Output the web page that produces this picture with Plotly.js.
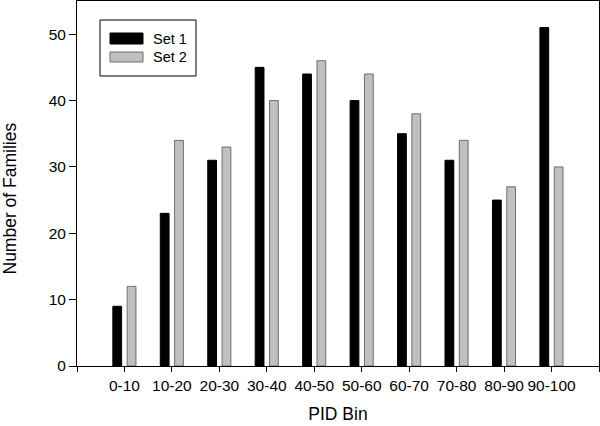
<!DOCTYPE html>
<html>
<head>
<meta charset="utf-8">
<script src="https://cdn.plot.ly/plotly-3.0.1.min.js"></script>
<style>html,body{margin:0;padding:0;background:#fff;}#chart{width:600px;height:426px;}</style>
</head>
<body>
<div id="chart"></div>
<script>
const categories = ["0-10","10-20","20-30","30-40","40-50","50-60","60-70","70-80","80-90","90-100"];
const set1 = [9, 23, 31, 45, 44, 40, 35, 31, 25, 51];
const set2 = [12, 34, 33, 40, 46, 44, 38, 34, 27, 30];
const seriesNames = ["Set 1", "Set 2"];
const yTicks = [0, 10, 20, 30, 40, 50];
const xTitle = "PID Bin";
const yTitle = "Number of Families";

const xpos = categories.map((c, i) => i + 1);
const font = "Liberation Sans, Arial, sans-serif";

const traces = [
  {type: "bar", x: xpos, y: set1, name: seriesNames[0], width: 0.185, offset: -0.245,
   marker: {color: "#000000", line: {color: "#000000", width: 1}}, showlegend: false, hoverinfo: "skip"},
  {type: "bar", x: xpos, y: set2, name: seriesNames[1], width: 0.185, offset: 0.057,
   marker: {color: "#c0c0c0", line: {color: "#6e6e6e", width: 1}}, showlegend: false, hoverinfo: "skip"}
];

const px = v => (v - 77) / 522;
const py = v => (366 - v) / 365;

const layout = {
  width: 600, height: 426,
  margin: {l: 77, r: 1, t: 1, b: 60},
  paper_bgcolor: "#fff", plot_bgcolor: "#fff",
  font: {family: font, color: "#000", size: 15.5},
  bargap: 0,
  xaxis: {
    range: [0, 11], tickvals: [0].concat(xpos, [11]), ticktext: [""].concat(categories, [""]),
    ticks: "outside", ticklen: 5, tickcolor: "#000", showgrid: false, zeroline: false,
    showline: true, linecolor: "#000", linewidth: 1, mirror: true,
    tickfont: {size: 15.5, family: font},
    title: {text: xTitle, font: {size: 17.5, family: font}, standoff: 15}
  },
  yaxis: {
    range: [0, 55], tickvals: yTicks,
    ticks: "outside", ticklen: 7, tickcolor: "#000", showgrid: false, zeroline: false,
    showline: true, linecolor: "#000", linewidth: 1, mirror: true,
    tickfont: {size: 15.5, family: font}
  },
  shapes: [
    {type: "rect", xref: "paper", yref: "paper", x0: px(100), x1: px(196), y0: py(76), y1: py(20),
     line: {color: "#000", width: 1}, fillcolor: "#fff"},
    {type: "rect", xref: "paper", yref: "paper", x0: px(110), x1: px(143), y0: py(44), y1: py(33),
     line: {color: "#000", width: 1}, fillcolor: "#000"},
    {type: "rect", xref: "paper", yref: "paper", x0: px(110), x1: px(143), y0: py(62), y1: py(52),
     line: {color: "#6e6e6e", width: 1}, fillcolor: "#c0c0c0"}
  ],
  annotations: [
    {xref: "paper", yref: "paper", x: px(151), y: py(39), text: seriesNames[0], showarrow: false,
     xanchor: "left", yanchor: "middle", font: {size: 14.5, family: font}},
    {xref: "paper", yref: "paper", x: px(151), y: py(57.5), text: seriesNames[1], showarrow: false,
     xanchor: "left", yanchor: "middle", font: {size: 14.5, family: font}},
    {xref: "paper", yref: "paper", x: px(9.5), y: py(199), text: yTitle, showarrow: false,
     textangle: -90, xanchor: "center", yanchor: "middle", font: {size: 17.5, family: font}}
  ]
};

Plotly.newPlot("chart", traces, layout, {staticPlot: true, displayModeBar: false});
</script>
</body>
</html>
